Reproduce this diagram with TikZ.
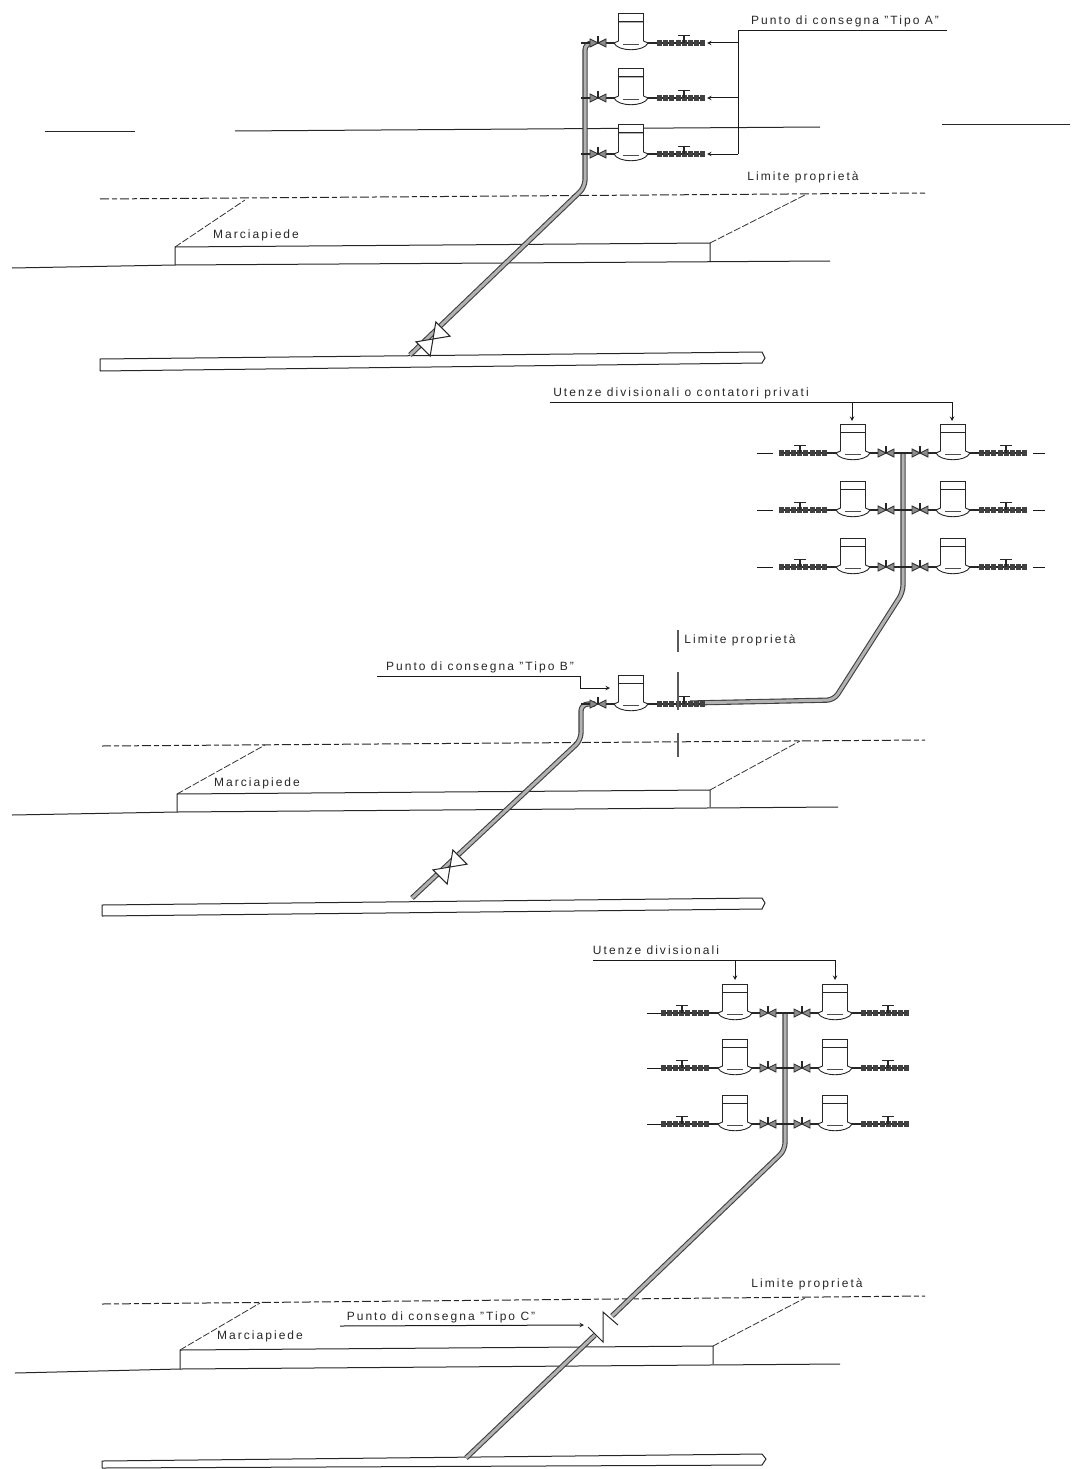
\documentclass[tikz,border=0pt]{standalone}
\usepackage{fontspec}
\setmainfont[LetterSpace=17]{Liberation Sans}
\usetikzlibrary{arrows,positioning}
\tikzset{
    >=stealth,
    tubo/.style={draw=black!75,double=black!30,double distance=3pt,line width=1.1pt,rounded corners=7pt},
    linea/.style={draw=black!85,line width=1pt},
    limite/.style={draw=black!85,line width=1pt,dash pattern=on 9pt off 3pt on 5pt off 3pt},
    tratto/.style={draw=black!80,line width=.8pt,dash pattern=on 7pt off 2pt},
    rif/.style={draw=black!90,line width=1pt},
    segno/.style={draw=black!65,line width=2.6pt},
    testo/.style={text=black!85,inner xsep=0pt,inner ysep=3pt,text height=8pt,text depth=3pt,font=\fontsize{12}{13}\selectfont},
    contatore/.pic={
        \draw[black!85,line width=.9pt,fill=white] (-12.5,-21) -- (-12.5,-2) -- (-17,0) .. controls (-13,9) and (13,9) .. (17,0) -- (12.5,-2) -- (12.5,-21) -- cycle;
        \draw[black!85,line width=1pt,fill=white] (-12.5,-29) rectangle (12.5,-21);
        \draw[black!70,line width=.7pt] (-8,1) -- (8,1);
    },
    utenza/.pic={
        \draw[black!85,line width=1.3pt] (-50,0) -- (74,0);
        \pic {contatore};
        \draw[black!80,line width=.9pt,fill=black!45] (-41,-4) -- (-25,4) -- (-25,-4) -- (-41,4) -- cycle;
        \draw[black!85,line width=1.6pt] (-33,0) -- (-33,-7);
        \draw[black!75,line width=6pt,dash pattern=on 5pt off 1.2pt] (26,0) -- (74,0);
        \draw[black!85,line width=1.6pt] (53,0) -- (53,-8);
        \draw[black!85,line width=.9pt] (47,-8) -- (59,-8);
    },
    saracinesca/.pic={
        \draw[black!85,line width=1pt,fill=white] (0,0) -- (14,-10) -- (14,10) -- cycle;
        \draw[black!85,line width=1pt,fill=white] (0,0) -- (-14,-10) -- (-14,10) -- cycle;
    }
}
\begin{document}
\begin{tikzpicture}[x=1pt,y=-1pt]
    \useasboundingbox (0,0) rectangle (1078,1469);

    % tipo A
    \coordinate (snoda) at (592,43);
    \coordinate (gomitoa) at (585,43);
    \coordinate (pieaa) at (585,187);
    \coordinate (attaccoa) at (410,355);
    \draw[linea] (45,132) -- (135,132);
    \draw[linea] (235,131) -- (820,127);
    \draw[linea] (942,125) -- (1070,125);
    \draw[limite] (100,199) -- (925,193);
    \draw[linea] (12,268) -- (175,265) -- (830,261);
    \draw[linea] (175,265) -- (175,247) -- (710,243) -- (710,262);
    \draw[tratto] (175,247) -- (245,200);
    \draw[tratto] (710,243) -- (805,195);
    \draw[linea] (100,371) -- (100,359) -- (762,352) -- (765,358) -- (762,363) -- (100,371);
    \draw[tubo] (snoda) -- (gomitoa) -- (pieaa) -- (attaccoa);
    \pic[rotate=45] at (433,339) {saracinesca};
    \foreach \y in {43,98,154}{
        \pic at (631,\y) {utenza};
        \draw[rif,->] (738,\y) -- (707,\y);
    }
    \node[testo] (tipoa) at (845,22.5) {Punto di consegna "Tipo A"};
    \coordinate (angoloa) at (738,31);
    \coordinate (fondoa) at (738,154);
    \coordinate (finea) at (947,31);
    \draw[rif] (finea) -- (angoloa) -- (fondoa);
    \node[testo] (lima) at (803,178) {Limite proprietà};
    \node[testo] (marca) at (256,236) {Marciapiede};

    % tipo B
    \coordinate (gomitob) at (581,704);
    \coordinate (piebb) at (581,740);
    \coordinate (attaccob) at (412,898);
    \coordinate (testab) at (903,453);
    \coordinate (piegab) at (903,592);
    \coordinate (curvab) at (834,700);
    \coordinate (uscitab) at (690,703);
    \draw[limite] (102,746) -- (925,740);
    \draw[linea] (12,815) -- (177,812) -- (838,807);
    \draw[linea] (177,812) -- (177,794) -- (710,790) -- (710,807);
    \draw[tratto] (177,794) -- (265,745);
    \draw[tratto] (710,790) -- (800,741);
    \draw[linea] (102,916) -- (102,905) -- (762,898) -- (765,903) -- (762,909) -- (102,916);
    \draw[tubo] (testab) -- (piegab) -- (curvab) -- (uscitab);
    \draw[tubo] (595,704) -- (gomitob) -- (piebb) -- (attaccob);
    \pic[rotate=45] at (450,867) {saracinesca};
    \pic at (631,704) {utenza};
    \draw[segno] (678,630) -- (678,652);
    \draw[segno] (678,672) -- (678,710);
    \draw[segno] (678,733) -- (678,757);
    \foreach \y in {453,510,567}{
        \pic at (953,\y) {utenza};
        \pic[xscale=-1] at (853,\y) {utenza};
        \draw[rif] (1033,\y) -- (1045,\y);
        \draw[rif] (773,\y) -- (757,\y);
    }
    \node[testo] (utenzeb) at (681,393.5) {Utenze divisionali o contatori privati};
    \coordinate (iniziob) at (550,402);
    \coordinate (frecciab) at (852,402);
    \coordinate (finerifb) at (952,402);
    \coordinate (puntab) at (852,421);
    \coordinate (puntac) at (952,421);
    \draw[rif] (iniziob) -- (finerifb);
    \draw[rif,->] (frecciab) -- (puntab);
    \draw[rif,->] (finerifb) -- (puntac);
    \node[testo] (limb) at (740,641) {Limite proprietà};
    \node[testo] (marcb) at (257,784) {Marciapiede};
    \node[testo] (tipob) at (480,667.5) {Punto di consegna "Tipo B"};
    \coordinate (attaccot) at (377,676);
    \coordinate (scesaa) at (580,676);
    \coordinate (scesab) at (580,688);
    \coordinate (versob) at (610,688);
    \draw[rif] (attaccot) -- (scesaa);
    \draw[rif,->] (scesaa) -- (scesab) -- (versob);

    % tipo C
    \coordinate (testac) at (785,1013);
    \coordinate (piegac) at (785,1150);
    \coordinate (rotturasu) at (612,1316);
    \coordinate (rotturagiu) at (595,1335);
    \coordinate (attaccoc) at (466,1458);
    \draw[limite] (102,1304) -- (925,1296);
    \draw[linea] (15,1373) -- (180,1369) -- (840,1364);
    \draw[linea] (180,1369) -- (180,1350) -- (713,1346) -- (713,1364);
    \draw[tratto] (180,1350) -- (260,1303);
    \draw[tratto] (713,1346) -- (805,1298);
    \draw[linea] (102,1468) -- (102,1461) -- (762,1454) -- (766,1459) -- (762,1465) -- (102,1468);
    \draw[tubo] (testac) -- (piegac) -- (rotturasu);
    \draw[tubo] (rotturagiu) -- (attaccoc);
    \draw[black!85,line width=1pt] (588,1327) -- (603,1342) -- (603,1312) -- (618,1325);
    \foreach \y in {1013,1068,1124}{
        \pic at (835,\y) {utenza};
        \pic[xscale=-1] at (735,\y) {utenza};
        \draw[rif] (661,\y) -- (647,\y);
    }
    \node[testo] (utenzec) at (656,951.5) {Utenze divisionali};
    \coordinate (inizioc) at (593,960);
    \coordinate (frecciaca) at (735,960);
    \coordinate (frecciacb) at (835,960);
    \coordinate (puntaca) at (735,980);
    \coordinate (puntacb) at (835,980);
    \draw[rif] (inizioc) -- (frecciacb);
    \draw[rif,->] (frecciaca) -- (puntaca);
    \draw[rif,->] (frecciacb) -- (puntacb);
    \node[testo] (limc) at (807,1285) {Limite proprietà};
    \node[testo] (marcc) at (260,1337) {Marciapiede};
    \node[testo] (tipoc) at (441,1317.5) {Punto di consegna "Tipo C"};
    \coordinate (attaccov) at (340,1326);
    \coordinate (versoc) at (584,1325);
    \draw[rif,->] (attaccov) -- (versoc);
\end{tikzpicture}
\end{document}
